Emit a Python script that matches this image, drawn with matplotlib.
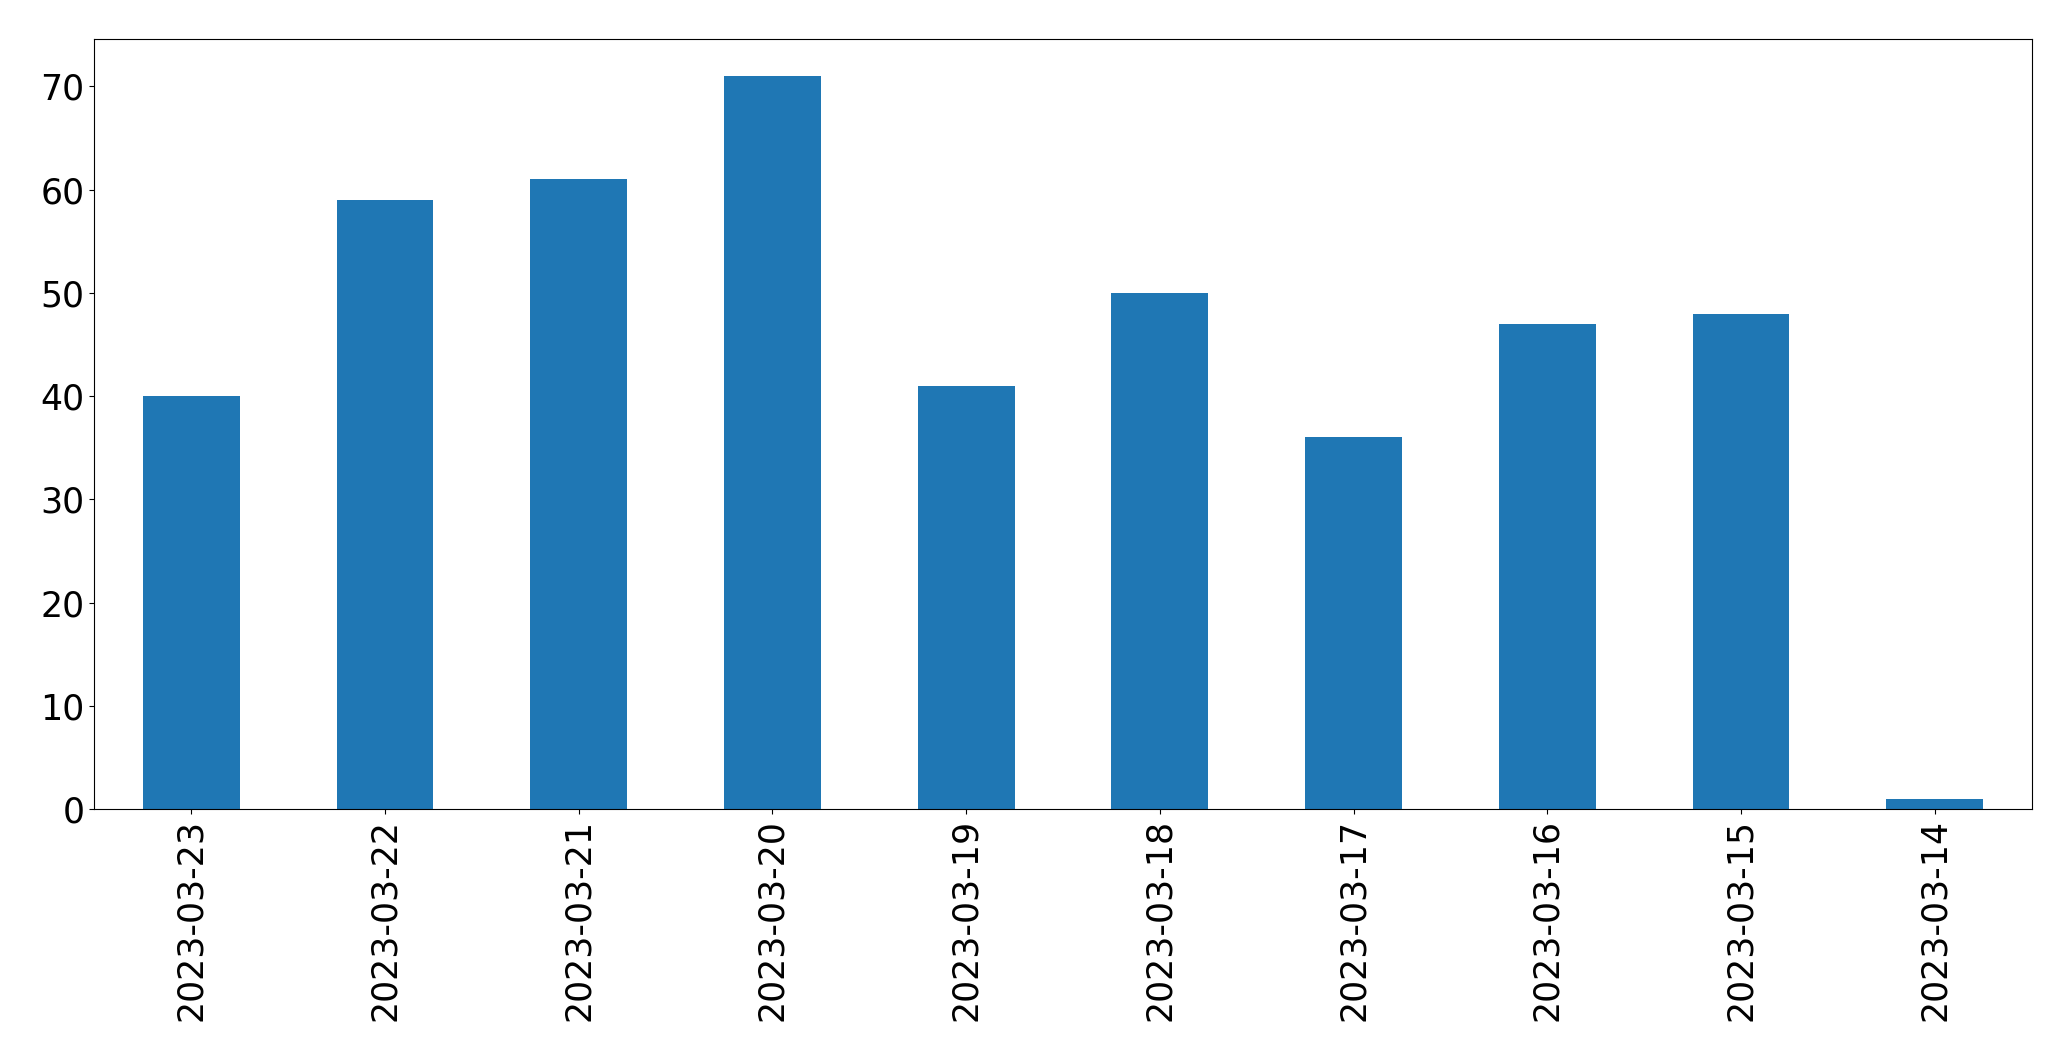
import matplotlib
matplotlib.use("Agg")
import matplotlib.pyplot as plt

dates = ["2023-03-23", "2023-03-22", "2023-03-21", "2023-03-20", "2023-03-19",
         "2023-03-18", "2023-03-17", "2023-03-16", "2023-03-15", "2023-03-14"]
counts = [40, 59, 61, 71, 41, 50, 36, 47, 48, 1]

fig = plt.figure(figsize=(20.71, 10.61), dpi=100)
ax = fig.add_axes([0.0456, 0.2375, 0.9354, 0.7253])
x = list(range(len(dates)))
ax.bar(x, counts, width=0.5, color="#1f77b4")
ax.set_xlim(-0.5, len(dates) - 0.5)
ax.set_xticks(x)
ax.set_xticklabels(dates, rotation=90)
ax.tick_params(axis="both", labelsize=25)
fig.savefig("out.png", dpi=100)
